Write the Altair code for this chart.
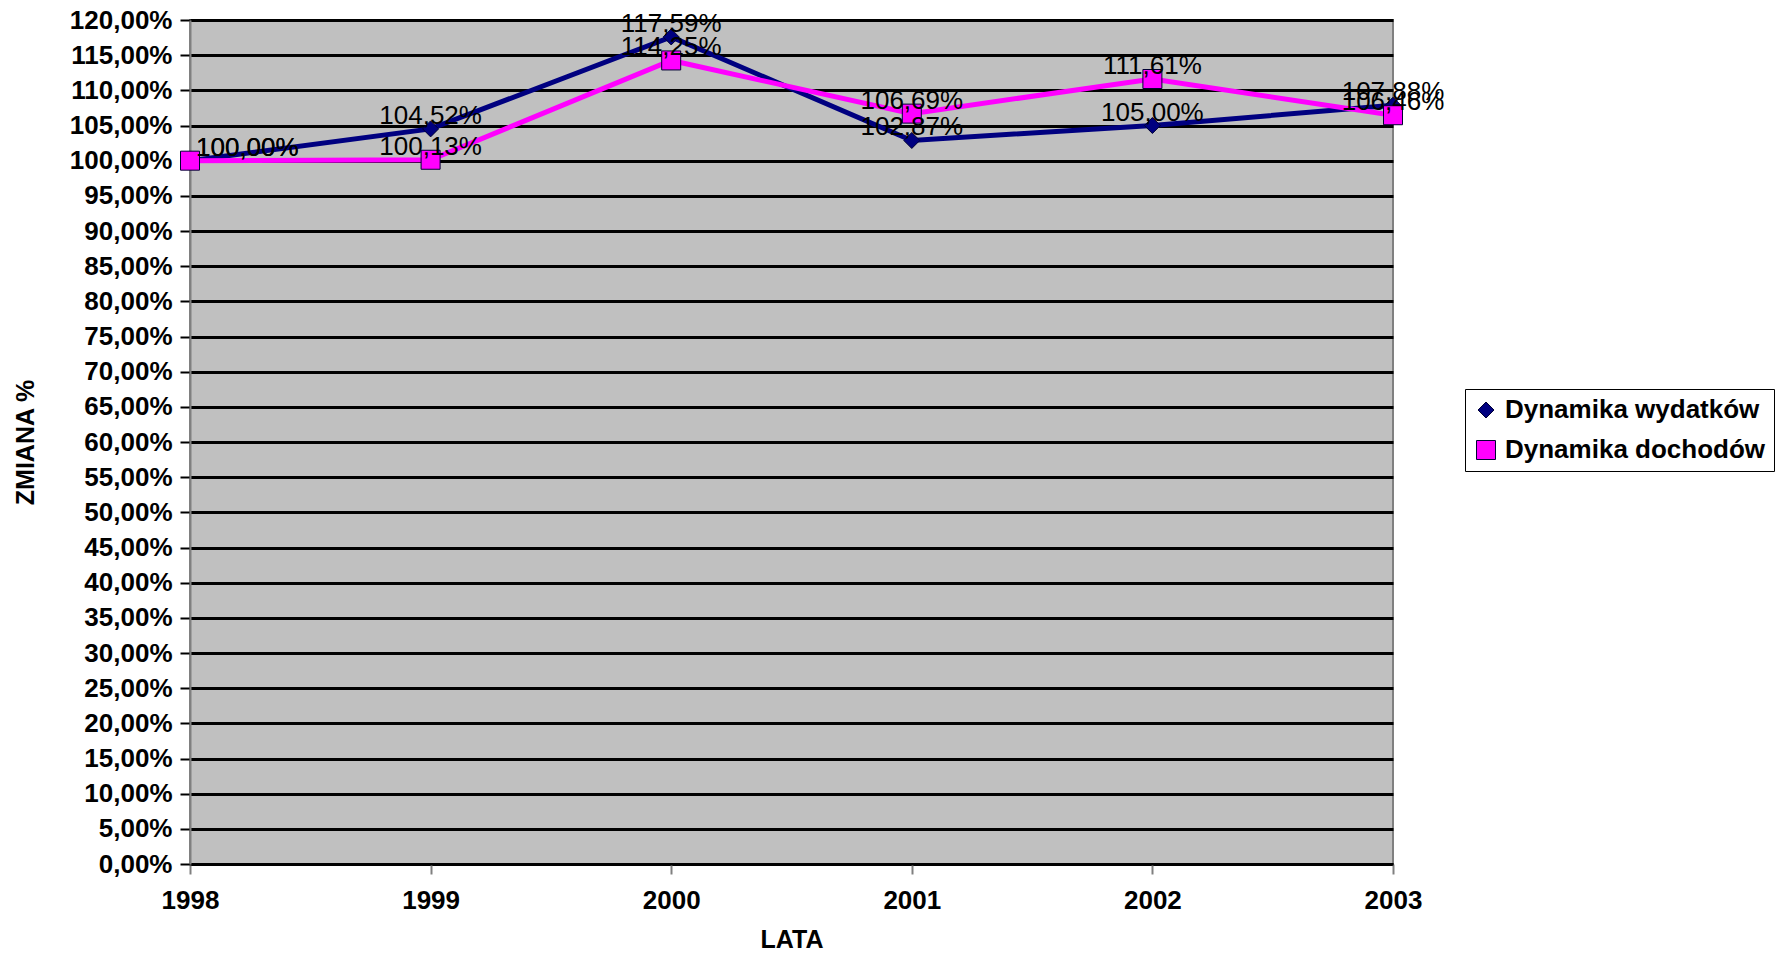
import altair as alt
import pandas as pd

years = [1998, 1999, 2000, 2001, 2002, 2003]
series_names = ["Dynamika wydatków", "Dynamika dochodów"]
wydatki = [100.00, 104.52, 117.59, 102.87, 105.00, 107.88]
dochody = [100.00, 100.13, 114.25, 106.69, 111.61, 106.46]
y_ticks = list(range(0, 125, 5))

rows = []
for name, vals in zip(series_names, [wydatki, dochody]):
    for yr, v in zip(years, vals):
        rows.append({"year": yr, "series": name, "value": v,
                     "label": f"{v:.2f}".replace(".", ",") + "%"})
df = pd.DataFrame(rows)

FONT = "Liberation Sans"
NAVY = "#000080"
PINK = "#FF00FF"

x_enc = alt.X(
    "year:O",
    scale=alt.Scale(type="point", padding=0),
    axis=alt.Axis(
        title="LATA", labelAngle=0, labelFont=FONT, labelFontSize=26,
        labelFontWeight="bold", labelColor="black", labelPadding=13,
        tickSize=10, tickColor="#808080", tickWidth=2,
        domainColor="black", domainWidth=2, grid=False,
        titleFont=FONT, titleFontSize=25, titleFontWeight="bold",
        titleColor="black", titleY=75, titleBaseline="middle",
    ),
)
y_enc = alt.Y(
    "value:Q",
    scale=alt.Scale(domain=[0, 120], nice=False, zero=True),
    axis=alt.Axis(
        title="ZMIANA %", values=y_ticks,
        labelExpr="replace(format(datum.value, '.2f'), '.', ',') + '%'",
        labelFont=FONT, labelFontSize=26, labelFontWeight="bold",
        labelColor="black", labelPadding=8, tickSize=10, tickColor="black",
        tickWidth=2, domainColor="#808080", domainWidth=2,
        grid=True, gridColor="black", gridWidth=3,
        titleFont=FONT, titleFontSize=25, titleFontWeight="bold",
        titleColor="black", titleX=-165, titleY=422, titleAngle=-90,
        titleBaseline="middle", titleAlign="center",
    ),
)

legend_props = dict(
    orient="none", legendX=1275, legendY=369, title=None,
    labelFont=FONT, labelFontSize=26, labelFontWeight="bold", labelColor="black",
    labelLimit=500, fillColor="white", strokeColor="black",
    padding=8, rowPadding=14, symbolSize=320, labelOffset=6,
    symbolStrokeColor="#000033", symbolStrokeWidth=1,
)

base = alt.Chart(df)

line_w = base.transform_filter(alt.datum.series == series_names[0]).mark_line(
    strokeWidth=5, color=NAVY).encode(x=x_enc, y=y_enc)
line_d = base.transform_filter(alt.datum.series == series_names[1]).mark_line(
    strokeWidth=5, color=PINK).encode(x=x_enc, y=y_enc)

points = base.mark_point(filled=True, opacity=1, stroke="#000033", strokeWidth=1).encode(
    x=x_enc, y=y_enc,
    color=alt.Color("series:N", scale=alt.Scale(domain=series_names, range=[NAVY, PINK]),
                    sort=series_names, legend=alt.Legend(**legend_props)),
    shape=alt.Shape("series:N", scale=alt.Scale(domain=series_names, range=["diamond", "square"]),
                    sort=series_names, legend=alt.Legend(**legend_props)),
    size=alt.Size("series:N", scale=alt.Scale(domain=series_names, range=[256, 361]), legend=None),
)

labels_mid = base.transform_filter(alt.datum.year != 1998).mark_text(
    font=FONT, fontSize=26, color="black", align="center", baseline="alphabetic", dy=-5
).encode(x=x_enc, y=y_enc, text="label:N")
labels_first = base.transform_filter(alt.datum.year == 1998).mark_text(
    font=FONT, fontSize=26, color="black", align="left", baseline="alphabetic", dx=6, dy=-5
).encode(x=x_enc, y=y_enc, text="label:N")

chart = alt.layer(line_w, line_d, points, labels_mid, labels_first).properties(
    width=1203, height=844,
    autosize=alt.AutoSizeParams(type="none"),
    padding={"left": 182, "top": 12, "right": 386, "bottom": 86},
    view=alt.ViewBackground(fill="#C0C0C0", stroke="#808080", strokeWidth=2),
).configure_legend(
    strokeWidth=2,
).configure(background="white")

chart.save("out.html", embed_options={"renderer": "svg", "actions": False})
